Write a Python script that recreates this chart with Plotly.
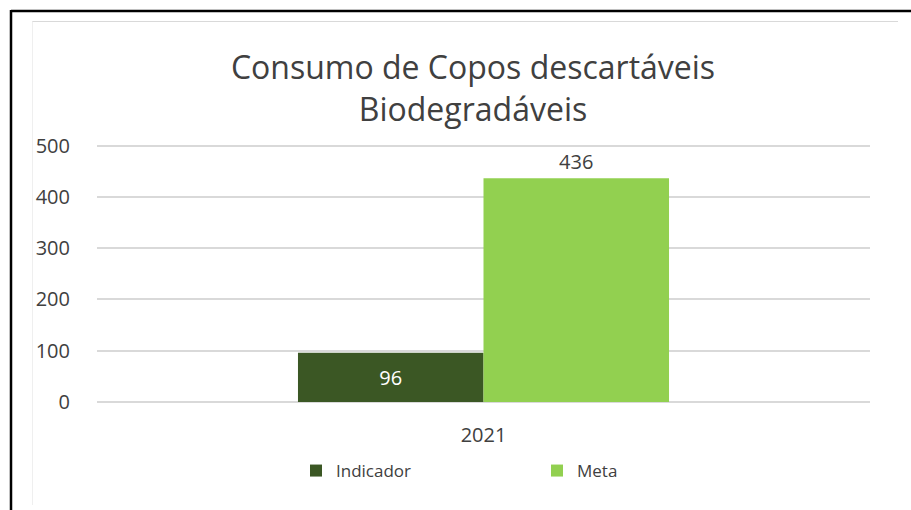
import plotly.graph_objects as go

categories = ["2021"]
indicador = [96]
meta = [436]
y_ticks = [0, 100, 200, 300, 400, 500]
title_lines = ["Consumo de Copos descartáveis", "Biodegradáveis"]

W, H = 911, 510
L, R, T, B = 97, 870, 144, 403

def px(x):
    return (x - L) / (R - L)

def py(y):
    return (B - y) / (B - T)

fig = go.Figure()
fig.add_trace(go.Bar(
    name="Indicador", x=categories, y=indicador,
    marker=dict(color="#3B5724", line=dict(width=0)),
    text=[str(v) for v in indicador], textposition="inside",
    insidetextanchor="middle",
    textfont=dict(color="white", size=20, family="Open Sans"),
))
fig.add_trace(go.Bar(
    name="Meta", x=categories, y=meta,
    marker=dict(color="#92D050", line=dict(width=0)),
    text=[str(v) for v in meta], textposition="outside",
    textfont=dict(color="#404040", size=20, family="Open Sans"),
    cliponaxis=False,
))

shapes = [
    # outer black frame (top and left)
    dict(type="line", xref="paper", yref="paper", x0=px(11), x1=px(911), y0=py(11), y1=py(11),
         line=dict(color="black", width=2.5)),
    dict(type="line", xref="paper", yref="paper", x0=px(11), x1=px(11), y0=py(10), y1=py(510),
         line=dict(color="black", width=2.5)),
    # light chart-area frame
    dict(type="line", xref="paper", yref="paper", x0=px(32), x1=px(898), y0=py(21.5), y1=py(21.5),
         line=dict(color="#D9D9D9", width=1.2)),
    dict(type="line", xref="paper", yref="paper", x0=px(32.5), x1=px(32.5), y0=py(21.5), y1=py(505),
         line=dict(color="#EFEFEF", width=1)),
]

fig.update_layout(
    width=W, height=H,
    margin=dict(l=L, r=W - R, t=T, b=H - B, pad=0),
    paper_bgcolor="white", plot_bgcolor="white",
    barmode="group", bargap=0.52, bargroupgap=0,
    title=dict(
        text="<br>".join(title_lines),
        x=473 / W, xanchor="center", xref="container",
        y=1 - 79 / H, yanchor="top", yref="container",
        font=dict(family="Open Sans", size=32, color="#404040"),
    ),
    xaxis=dict(
        showgrid=False, showline=False, zeroline=False,
        tickfont=dict(family="Open Sans", size=20, color="#404040"),
        ticks="outside", ticklen=14, tickcolor="rgba(0,0,0,0)",
    ),
    yaxis=dict(
        range=[-2, 503], tickvals=y_ticks,
        showgrid=True, gridcolor="#D9D9D9", gridwidth=1.5,
        zeroline=True, zerolinecolor="#D9D9D9", zerolinewidth=1.5,
        showline=False,
        tickfont=dict(family="Open Sans", size=20, color="#404040"),
        ticks="outside", ticklen=22, tickcolor="rgba(0,0,0,0)",
    ),
    legend=dict(
        orientation="h", x=px(296), xanchor="left", y=py(471), yanchor="middle",
        font=dict(family="Open Sans", size=17, color="#404040"),
        entrywidth=196, entrywidthmode="pixels", itemwidth=30,
        bgcolor="rgba(0,0,0,0)",
    ),
    shapes=shapes,
)

fig.write_html("out.html", config={"displayModeBar": False},
               post_script="document.body.style.margin='0';")
